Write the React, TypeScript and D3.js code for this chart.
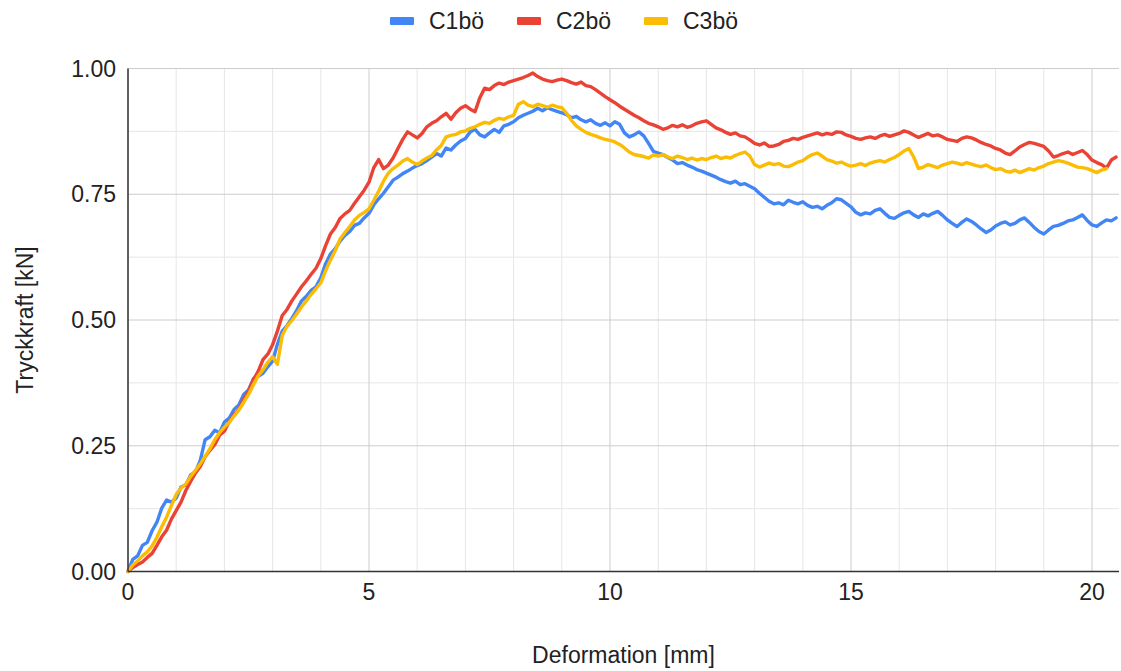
import React from 'react';
import * as d3 from 'd3';

// Deformation sampled every 0.1 mm, starting at 0
const deformationStep = 0.1;

const seriesNames = ['C1bö', 'C2bö', 'C3bö'];
const seriesColors = ['#4285F4', '#EA4335', '#FBBC04'];

const c1bo = [
  0.000, 0.024, 0.031, 0.052, 0.058, 0.081, 0.098, 0.126, 0.142, 0.138,
  0.146, 0.168, 0.172, 0.192, 0.198, 0.221, 0.262, 0.268, 0.281, 0.276,
  0.297, 0.305, 0.322, 0.331, 0.352, 0.361, 0.383, 0.388, 0.394, 0.407,
  0.418, 0.452, 0.478, 0.489, 0.503, 0.519, 0.538, 0.547, 0.559, 0.566,
  0.584, 0.612, 0.631, 0.642, 0.657, 0.668, 0.676, 0.688, 0.692, 0.703,
  0.712, 0.729, 0.741, 0.752, 0.765, 0.778, 0.784, 0.791, 0.796, 0.802,
  0.807, 0.811, 0.817, 0.824, 0.831, 0.826, 0.842, 0.838, 0.848, 0.856,
  0.861, 0.874, 0.879, 0.868, 0.864, 0.872, 0.879, 0.873, 0.886, 0.889,
  0.894, 0.902, 0.907, 0.911, 0.915, 0.921, 0.916, 0.922, 0.918, 0.915,
  0.912, 0.908, 0.902, 0.905, 0.898, 0.894, 0.898, 0.891, 0.887, 0.892,
  0.886, 0.894, 0.889, 0.872, 0.864, 0.868, 0.874, 0.866, 0.851, 0.835,
  0.832, 0.829, 0.823, 0.818, 0.811, 0.813, 0.808, 0.804, 0.799, 0.796,
  0.792, 0.788, 0.784, 0.779, 0.775, 0.772, 0.776, 0.769, 0.771, 0.766,
  0.761, 0.752, 0.744, 0.736, 0.731, 0.733, 0.729, 0.738, 0.734, 0.731,
  0.735, 0.728, 0.724, 0.726, 0.721, 0.728, 0.733, 0.741, 0.739, 0.732,
  0.725, 0.714, 0.709, 0.713, 0.711, 0.718, 0.721, 0.712, 0.704, 0.702,
  0.708, 0.713, 0.716, 0.709, 0.704, 0.711, 0.707, 0.712, 0.716, 0.708,
  0.699, 0.692, 0.686, 0.694, 0.701, 0.696, 0.689, 0.681, 0.674, 0.679,
  0.687, 0.692, 0.695, 0.689, 0.692, 0.699, 0.703, 0.694, 0.684, 0.676,
  0.671, 0.679, 0.686, 0.688, 0.692, 0.697, 0.699, 0.704, 0.709, 0.698,
  0.689, 0.686, 0.693, 0.699, 0.697, 0.703,
];

const c2bo = [
  0.000, 0.008, 0.014, 0.019, 0.028, 0.036, 0.052, 0.069, 0.082, 0.104,
  0.121, 0.138, 0.161, 0.179, 0.196, 0.209, 0.228, 0.241, 0.252, 0.271,
  0.279, 0.298, 0.311, 0.322, 0.342, 0.358, 0.381, 0.398, 0.421, 0.432,
  0.451, 0.478, 0.509, 0.521, 0.538, 0.552, 0.566, 0.578, 0.591, 0.603,
  0.622, 0.648, 0.671, 0.684, 0.702, 0.711, 0.718, 0.732, 0.745, 0.758,
  0.774, 0.803, 0.819, 0.801, 0.808, 0.822, 0.841, 0.859, 0.874, 0.868,
  0.862, 0.871, 0.884, 0.891, 0.896, 0.904, 0.911, 0.899, 0.912, 0.921,
  0.926, 0.919, 0.914, 0.942, 0.961, 0.958, 0.966, 0.971, 0.968, 0.973,
  0.976, 0.979, 0.982, 0.986, 0.991, 0.984, 0.979, 0.976, 0.974, 0.977,
  0.979, 0.976, 0.972, 0.969, 0.973, 0.966, 0.964, 0.958, 0.951, 0.944,
  0.938, 0.932, 0.925, 0.919, 0.913, 0.907, 0.902, 0.896, 0.891, 0.888,
  0.884, 0.879, 0.882, 0.887, 0.884, 0.888, 0.883, 0.886, 0.891, 0.894,
  0.896, 0.889, 0.882, 0.878, 0.873, 0.869, 0.872, 0.866, 0.864, 0.858,
  0.851, 0.848, 0.852, 0.845, 0.846, 0.849, 0.855, 0.857, 0.861, 0.859,
  0.863, 0.866, 0.869, 0.872, 0.868, 0.871, 0.869, 0.874, 0.873, 0.868,
  0.865, 0.861, 0.859, 0.862, 0.864, 0.861, 0.866, 0.869, 0.865, 0.868,
  0.871, 0.876, 0.873, 0.868, 0.863, 0.867, 0.871, 0.866, 0.868, 0.864,
  0.859, 0.857, 0.855, 0.861, 0.864, 0.862, 0.858, 0.853, 0.849, 0.846,
  0.841, 0.838, 0.832, 0.829, 0.836, 0.844, 0.849, 0.853, 0.851, 0.848,
  0.845, 0.836, 0.824, 0.827, 0.831, 0.834, 0.829, 0.833, 0.837, 0.829,
  0.818, 0.813, 0.809, 0.802, 0.818, 0.824,
];

const c3bo = [
  0.000, 0.013, 0.021, 0.031, 0.039, 0.051, 0.068, 0.089, 0.108, 0.131,
  0.153, 0.166, 0.174, 0.189, 0.201, 0.214, 0.229, 0.244, 0.262, 0.276,
  0.287, 0.296, 0.309, 0.321, 0.336, 0.352, 0.371, 0.389, 0.401, 0.416,
  0.427, 0.412, 0.469, 0.488, 0.499, 0.512, 0.526, 0.538, 0.551, 0.562,
  0.574, 0.598, 0.619, 0.638, 0.661, 0.674, 0.686, 0.699, 0.708, 0.714,
  0.721, 0.738, 0.756, 0.776, 0.792, 0.801, 0.808, 0.816, 0.821, 0.814,
  0.809, 0.816, 0.822, 0.827, 0.838, 0.847, 0.864, 0.867, 0.869, 0.874,
  0.876, 0.881, 0.884, 0.889, 0.893, 0.891, 0.897, 0.901, 0.899, 0.904,
  0.907, 0.929, 0.934, 0.927, 0.924, 0.929, 0.926, 0.923, 0.927, 0.924,
  0.922, 0.911, 0.897, 0.886, 0.879, 0.873, 0.869, 0.866, 0.862, 0.859,
  0.857, 0.854, 0.849, 0.842, 0.834, 0.829, 0.827, 0.825, 0.822, 0.828,
  0.826, 0.829, 0.824, 0.821, 0.826, 0.823, 0.819, 0.822, 0.818, 0.821,
  0.819, 0.823, 0.826, 0.821, 0.824, 0.822, 0.827, 0.831, 0.834, 0.826,
  0.809, 0.804, 0.808, 0.812, 0.809, 0.811, 0.806, 0.805, 0.809, 0.814,
  0.817, 0.824, 0.829, 0.832, 0.826, 0.819, 0.816, 0.812, 0.814, 0.809,
  0.806, 0.808, 0.811, 0.807, 0.812, 0.815, 0.817, 0.814, 0.819, 0.823,
  0.829, 0.836, 0.841, 0.824, 0.801, 0.804, 0.809, 0.806, 0.803, 0.808,
  0.811, 0.814, 0.812, 0.809, 0.813, 0.810, 0.807, 0.805, 0.808, 0.803,
  0.799, 0.801, 0.796, 0.794, 0.798, 0.793, 0.797, 0.801, 0.798, 0.803,
  0.806, 0.811, 0.814, 0.817, 0.815, 0.812, 0.808, 0.804, 0.803, 0.801,
  0.797, 0.793, 0.798, 0.801,
];

const xTicks = [0, 5, 10, 15, 20];
const xMinorTicks = [1, 2, 3, 4, 6, 7, 8, 9, 11, 12, 13, 14, 16, 17, 18, 19];
const yTicks = [0, 0.25, 0.5, 0.75, 1.0];
const yMinorTicks = [0.125, 0.375, 0.625, 0.875];

const xTitle = 'Deformation [mm]';
const yTitle = 'Tryckkraft [kN]';

const W = 1121;
const H = 671;
const FONT = "Arial, 'Liberation Sans', sans-serif";
const FS = 23;

export default function App() {
  const x = d3.scaleLinear().domain([0, 20.56]).range([128, 1119]);
  const y = d3.scaleLinear().domain([0, 1]).range([571.5, 68.5]);

  const series = [c1bo, c2bo, c3bo];
  const line = d3
    .line<number>()
    .x((_, i) => x(i * deformationStep))
    .y((d) => y(d));

  const [x0, x1] = x.range();
  const [y0, y1] = y.range();

  const legendItems = [
    { rect: 390, text: 429 },
    { rect: 517, text: 556 },
    { rect: 644, text: 683 },
  ];

  return (
    <svg
      width={W}
      height={H}
      style={{ position: 'absolute', left: 0, top: 0, background: '#fff' }}
      fontFamily={FONT}
    >
      <rect x={0} y={0} width={W} height={H} fill="#fff" />
      {xMinorTicks.map((t) => (
        <line key={'xm' + t} x1={x(t)} x2={x(t)} y1={y1} y2={y0} stroke="#e6e6e6" strokeWidth={1} />
      ))}
      {yMinorTicks.map((t) => (
        <line key={'ym' + t} x1={x0} x2={x1} y1={y(t)} y2={y(t)} stroke="#e6e6e6" strokeWidth={1} />
      ))}
      {xTicks.map((t) => (
        <line key={'xM' + t} x1={x(t)} x2={x(t)} y1={y1} y2={y0} stroke="#cccccc" strokeWidth={1} />
      ))}
      {yTicks.map((t) => (
        <line key={'yM' + t} x1={x0} x2={x1} y1={y(t)} y2={y(t)} stroke="#cccccc" strokeWidth={1} />
      ))}
      {series.map((s, i) => (
        <path
          key={seriesNames[i]}
          d={line(s) || ''}
          fill="none"
          stroke={seriesColors[i]}
          strokeWidth={3.4}
          strokeLinejoin="round"
          strokeLinecap="round"
        />
      ))}
      <line x1={x0} x2={x1} y1={y0} y2={y0} stroke="#333" strokeWidth={1.5} />
      <line x1={x0} x2={x0} y1={y1} y2={y0} stroke="#333" strokeWidth={1.5} />
      {yTicks.map((t) => (
        <text key={'yl' + t} x={116} y={y(t)} dy="0.35em" textAnchor="end" fontSize={FS} fill="#222">
          {t.toFixed(2)}
        </text>
      ))}
      {xTicks.map((t) => (
        <text key={'xl' + t} x={x(t)} y={592} dy="0.35em" textAnchor="middle" fontSize={FS} fill="#222">
          {t}
        </text>
      ))}
      <text x={(x0 + x1) / 2} y={655} dy="0.35em" textAnchor="middle" fontSize={FS} fill="#222">
        {xTitle}
      </text>
      <text
        transform={`translate(25, ${(y0 + y1) / 2}) rotate(-90)`}
        dy="0.35em"
        textAnchor="middle"
        fontSize={FS}
        fill="#222"
      >
        {yTitle}
      </text>
      {seriesNames.map((n, i) => (
        <g key={'lg' + n}>
          <rect x={legendItems[i].rect} y={17} width={24} height={8} rx={1} fill={seriesColors[i]} />
          <text x={legendItems[i].text} y={21} dy="0.35em" fontSize={FS} fill="#222">
            {n}
          </text>
        </g>
      ))}
    </svg>
  );
}
